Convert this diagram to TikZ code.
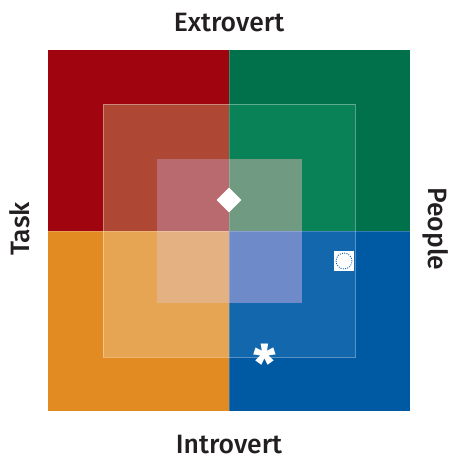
\documentclass[tikz,border=0pt]{standalone}
\usepackage{fontspec}
\setmainfont{Fira Sans}[UprightFont={* Medium}]
\usepackage{tikz}
\usetikzlibrary{shapes,positioning,calc}
\definecolor{txtgray}{RGB}{35,31,32}
\definecolor{redA}{RGB}{160,5,15}
\definecolor{redB}{RGB}{174,72,52}
\definecolor{redC}{RGB}{185,106,110}
\definecolor{greenA}{RGB}{0,113,74}
\definecolor{greenB}{RGB}{10,130,87}
\definecolor{greenC}{RGB}{112,155,130}
\definecolor{orangeA}{RGB}{227,139,35}
\definecolor{orangeB}{RGB}{229,165,82}
\definecolor{orangeC}{RGB}{228,178,130}
\definecolor{blueA}{RGB}{0,89,163}
\definecolor{blueB}{RGB}{19,104,173}
\definecolor{blueC}{RGB}{110,138,200}
\tikzset{axislabel/.style={text=txtgray,font=\fontsize{20}{24}\selectfont,inner sep=0pt}}

\begin{document}
\begin{tikzpicture}[x=0.0265cm,y=-0.0265cm]
\useasboundingbox (0,0) rectangle (449,461);
% quadrants: outer, middle, inner
\fill[redA] (48,50) rectangle (229,231);
\fill[greenA] (229,50) rectangle (410,231);
\fill[orangeA] (48,231) rectangle (229,411);
\fill[blueA] (229,231) rectangle (410,411);
\fill[redB] (103,104) rectangle (229,231);
\fill[greenB] (229,104) rectangle (355,231);
\fill[orangeB] (103,231) rectangle (229,357);
\fill[blueB] (229,231) rectangle (355,357);
\fill[redC] (157,159) rectangle (229,231);
\fill[greenC] (229,159) rectangle (302,231);
\fill[orangeC] (157,231) rectangle (229,303);
\fill[blueC] (229,231) rectangle (302,303);
\draw[white,opacity=0.35,line width=0.6pt] (103,104) rectangle (355,357);
\draw[white,opacity=0.2,line width=0.5pt] (48,231) -- (410,231) (229,50) -- (229,411);

\node[axislabel] (extro) at (229,23) {Extrovert};
\node[axislabel] (intro) at (229,445) {Introvert};
\node[axislabel,rotate=90] (task) at (20,229) {Task};
\node[axislabel,rotate=-90] (people) at (436,229) {People};

% markers
\node[diamond,fill=white,inner sep=0pt,minimum size=19pt] (dia) at (229,200) {};
\node[fill=white,inner sep=0pt,minimum size=15.5pt] (box) at (344,261) {};
\node[circle,draw=blueB,densely dotted,line width=0.7pt,inner sep=0pt,minimum size=12pt] (ring) at (box.center) {};
\node[text=white,font=\fontsize{38}{38}\selectfont\bfseries,inner sep=0pt] (star) at (265,363) {*};
\end{tikzpicture}
\end{document}
